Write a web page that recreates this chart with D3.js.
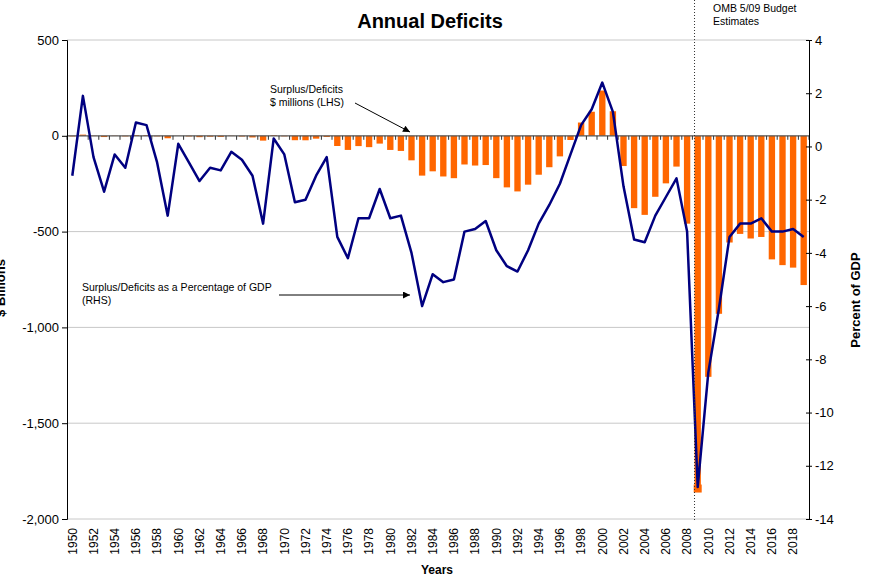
<!DOCTYPE html>
<html>
<head>
<meta charset="utf-8">
<script src="https://cdn.jsdelivr.net/npm/d3@7"></script>
<style>
  body { margin: 0; background: #fff; }
  svg { display: block; font-family: "Liberation Sans", Arial, sans-serif; }
</style>
</head>
<body>
<svg id="chart" width="875" height="577"></svg>
<script>
// Years 1950-2019 (2009 onward = OMB 5/09 budget estimates)
const years = d3.range(1950, 2020);

// Surplus/deficit, $ billions (left axis, bars)
const deficits = [
  -3.1, 6.1, -1.5, -6.5, -1.2, -3.0, 3.9, 3.4, -2.8, -12.8,
  0.3, -3.3, -7.1, -4.8, -5.9, -1.4, -3.7, -8.6, -25.2, 3.2,
  -2.8, -23.0, -23.4, -14.9, -6.1, -53.2, -73.7, -53.7, -59.2, -40.7,
  -73.8, -79.0, -128.0, -207.8, -185.4, -212.3, -221.2, -149.7, -155.2, -152.6,
  -221.0, -269.2, -290.3, -255.1, -203.2, -164.0, -107.4, -21.9, 69.3, 125.6,
  236.2, 128.2, -157.8, -377.6, -412.7, -318.3, -248.2, -160.7, -458.6, -1841,
  -1258, -929, -557, -512, -536, -528, -645, -675, -688, -779
];

// Surplus/deficit as % of GDP (right axis, line)
const pctGdp = [
  -1.1, 1.9, -0.4, -1.7, -0.3, -0.8, 0.9, 0.8, -0.6, -2.6,
  0.1, -0.6, -1.3, -0.8, -0.9, -0.2, -0.5, -1.1, -2.9, 0.3,
  -0.3, -2.1, -2.0, -1.1, -0.4, -3.4, -4.2, -2.7, -2.7, -1.6,
  -2.7, -2.6, -4.0, -6.0, -4.8, -5.1, -5.0, -3.2, -3.1, -2.8,
  -3.9, -4.5, -4.7, -3.9, -2.9, -2.2, -1.4, -0.3, 0.8, 1.4,
  2.4, 1.3, -1.5, -3.5, -3.6, -2.6, -1.9, -1.2, -3.2, -12.8,
  -8.5, -6.1, -3.4, -2.9, -2.9, -2.7, -3.2, -3.2, -3.1, -3.4
];

const leftTicks = [500, 0, -500, -1000, -1500, -2000];
const rightTicks = [4, 2, 0, -2, -4, -6, -8, -10, -12, -14];
const yearLabels = years.filter(y => y % 2 === 0);

const svg = d3.select('#chart');
const plotLeft = 67, plotRight = 809, plotTop = 40, plotBottom = 519;

const x = d3.scaleBand()
  .domain(years)
  .range([plotLeft, plotRight])
  .paddingInner(0.4)
  .paddingOuter(0.2);
const yL = d3.scaleLinear().domain([-2000, 500]).range([plotBottom, plotTop]);
const yR = d3.scaleLinear().domain([-14, 4]).range([plotBottom, plotTop]);

const fmt = v => d3.format(',')(v).replace('\u2212', '-');

// gridlines
svg.append('g')
  .selectAll('line')
  .data(leftTicks.filter(d => d !== 0))
  .join('line')
  .attr('x1', plotLeft).attr('x2', plotRight)
  .attr('y1', d => yL(d)).attr('y2', d => yL(d))
  .attr('stroke', '#c8c8c8')
  .attr('stroke-width', 1);

// bars
svg.append('g')
  .selectAll('rect')
  .data(years)
  .join('rect')
  .attr('x', d => x(d))
  .attr('width', x.bandwidth())
  .attr('y', (d, i) => yL(Math.max(0, deficits[i])))
  .attr('height', (d, i) => Math.abs(yL(deficits[i]) - yL(0)))
  .attr('fill', '#ff6600');

// marker at bottom of 2009 bar
const i09 = years.indexOf(2009);
svg.append('rect')
  .attr('x', x(2009) + x.bandwidth() / 2 - 4)
  .attr('y', yL(deficits[i09]) - 4)
  .attr('width', 8)
  .attr('height', 8)
  .attr('fill', '#ff6600');

// zero line with category ticks
const step = x.step();
const edge = d => x(d) - step * x.paddingInner() / 2;
svg.append('line')
  .attr('x1', plotLeft).attr('x2', plotRight)
  .attr('y1', yL(0)).attr('y2', yL(0))
  .attr('stroke', '#555')
  .attr('stroke-width', 1.2);
svg.append('g')
  .selectAll('line')
  .data(years.concat([2020]))
  .join('line')
  .attr('x1', d => d === 2020 ? plotRight : edge(d))
  .attr('x2', d => d === 2020 ? plotRight : edge(d))
  .attr('y1', yL(0))
  .attr('y2', yL(0) + 4)
  .attr('stroke', '#333')
  .attr('stroke-width', 1);

// line series
const line = d3.line()
  .x((d, i) => x(years[i]) + x.bandwidth() / 2)
  .y(d => yR(d));
svg.append('path')
  .datum(pctGdp)
  .attr('d', line)
  .attr('fill', 'none')
  .attr('stroke', '#000080')
  .attr('stroke-width', 2.5)
  .attr('stroke-linejoin', 'round');

// left axis
const gL = svg.append('g').attr('transform', `translate(${plotLeft},0)`)
  .call(d3.axisLeft(yL).tickValues(leftTicks).tickFormat(fmt).tickSize(5).tickPadding(3));
gL.select('.domain').attr('stroke', '#000');
gL.selectAll('.tick line').attr('stroke', '#000');
gL.selectAll('.tick text').attr('font-size', 13).attr('fill', '#000');

// right axis
const gR = svg.append('g').attr('transform', `translate(${plotRight},0)`)
  .call(d3.axisRight(yR).tickValues(rightTicks).tickFormat(fmt).tickSize(3).tickPadding(3));
gR.select('.domain').attr('stroke', '#000');
gR.selectAll('.tick line').attr('x1', -3).attr('stroke', '#000');
gR.selectAll('.tick text').attr('font-size', 13).attr('fill', '#000');

// year labels
svg.append('g')
  .selectAll('text')
  .data(yearLabels)
  .join('text')
  .attr('transform', d => `translate(${x(d) + x.bandwidth() / 2},528) rotate(-90)`)
  .attr('text-anchor', 'end')
  .attr('dy', '0.35em')
  .attr('font-size', 12)
  .text(d => d);

// estimates divider
svg.append('line')
  .attr('x1', x(2009)).attr('x2', x(2009))
  .attr('y1', 0).attr('y2', 522)
  .attr('stroke', '#333')
  .attr('stroke-width', 1)
  .attr('stroke-dasharray', '1,2');

// titles
svg.append('text')
  .attr('x', 430).attr('y', 28)
  .attr('text-anchor', 'middle')
  .attr('font-size', 20).attr('font-weight', 'bold')
  .text('Annual Deficits');
svg.append('text')
  .attr('x', 437).attr('y', 574)
  .attr('text-anchor', 'middle')
  .attr('font-size', 12).attr('font-weight', 'bold')
  .text('Years');
svg.append('text')
  .attr('transform', 'translate(860,300) rotate(-90)')
  .attr('text-anchor', 'middle')
  .attr('font-size', 13).attr('font-weight', 'bold')
  .text('Percent of GDP');
svg.append('text')
  .attr('transform', 'translate(5,288) rotate(-90)')
  .attr('text-anchor', 'middle')
  .attr('font-size', 13).attr('font-weight', 'bold')
  .text('$ Billions');

// annotations
const note = (lines, x0, y0) => {
  const t = svg.append('text').attr('font-size', 10.5).attr('fill', '#000');
  lines.forEach((s, k) => t.append('tspan').attr('x', x0).attr('y', y0 + k * 13).text(s));
};
note(['OMB 5/09 Budget', 'Estimates'], 713, 12);
note(['Surplus/Deficits', '$ millions (LHS)'], 270, 93);
note(['Surplus/Deficits as a Percentage of GDP', '(RHS)'], 82, 291);

svg.append('defs').append('marker')
  .attr('id', 'arr')
  .attr('viewBox', '0 0 10 10')
  .attr('refX', 10).attr('refY', 5)
  .attr('markerWidth', 9).attr('markerHeight', 7)
  .attr('markerUnits', 'userSpaceOnUse')
  .attr('orient', 'auto')
  .append('path').attr('d', 'M0,0L10,5L0,10Z').attr('fill', '#000');

svg.append('line')
  .attr('x1', 355).attr('y1', 103).attr('x2', 410).attr('y2', 132)
  .attr('stroke', '#000').attr('marker-end', 'url(#arr)');
svg.append('line')
  .attr('x1', 279).attr('y1', 295).attr('x2', 410).attr('y2', 295)
  .attr('stroke', '#000').attr('marker-end', 'url(#arr)');
</script>
</body>
</html>
